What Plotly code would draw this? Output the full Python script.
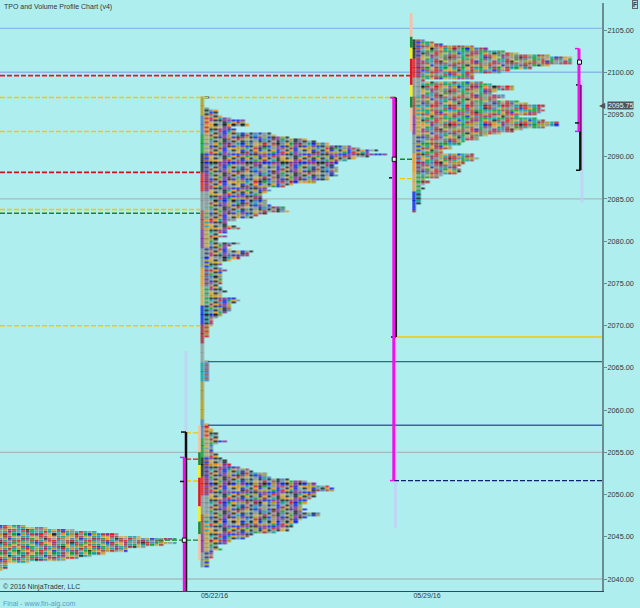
import plotly.graph_objects as go

# ---- data ----
TICK_PRICES = [2040, 2045, 2050, 2055, 2060, 2065, 2070, 2075, 2080, 2085, 2090, 2095, 2100, 2105]
DATE_TICKS = ["05/22/16", "05/29/16"]
LAST_PRICE = 2095.75
ROW = 0.25

P1_TOP = 2046.25
P1_COUNTS = [6, 11, 17, 22, 27, 32, 40, 37, 40, 37, 33, 29, 29, 24, 21, 18, 15, 7, 2, 2, 2, 1]

P2_TOP = 2097.0
P2_COUNTS = [
    2, 1, 1, 1, 1, 2, 4, 4, 4, 5, 7, 10, 10, 11, 7, 8, 8,
    16, 17, 20, 24, 26, 29, 34, 36, 40, 38, 42, 38, 35, 33, 31, 30, 31, 31, 31, 30, 31, 29, 29, 26, 21, 19,
    15, 16, 15, 14, 14, 14, 15, 15, 16, 19, 19, 20,
    15, 13, 12, 8, 6, 6, 8, 9, 6, 6, 4, 6, 4, 4, 9, 7, 6, 7, 12, 11,
    11, 9, 7, 5, 5, 4, 5, 6, 5, 5, 5, 5, 5, 5, 4, 5, 5, 6, 5, 5,
    8, 9, 8, 7, 7, 7, 7, 6, 5, 4, 3, 3, 3, 3, 2, 2, 2, 2, 2, 1, 1, 1, 1, 1,
    1, 1, 1, 1, 1, 1, 2, 2, 2, 2, 2, 2, 2, 2, 2, 2,
    1, 1, 1, 1, 1, 1, 1, 1, 1, 1, 1, 1, 1, 1, 1, 1, 1, 1, 1, 1,
    2, 2, 3, 3, 4, 4, 4, 4, 6, 4, 3, 3, 3, 3,
    4, 4, 5, 6, 6, 7, 9, 11, 12, 15, 15, 16, 20, 24, 26, 29, 30, 30, 26, 26, 26, 25, 24, 24, 23, 23, 24, 23,
    27, 27, 24, 23, 22, 21, 21, 20, 20, 17, 12, 11, 10, 7, 6, 4, 4, 5, 3, 3, 3, 3, 2, 2, 2, 2,
]

P3_TOP = 2103.75
P3_COUNTS = [
    3, 5, 7, 14, 17, 21, 24, 31, 36, 36, 36, 36, 31, 27, 22, 20, 14, 14, 14, 3, 16, 18, 23, 23,
    19, 18, 21, 21, 19, 24, 26, 30, 29, 30, 29, 28, 24, 28, 30, 33, 33, 30, 25, 23, 20, 17, 15, 15, 12, 11,
    9, 9, 7, 7, 14, 14, 15, 14, 12, 11, 10, 11, 11, 10, 7, 6, 3, 4, 3, 2, 3, 2, 2, 2, 2, 2, 2, 2, 1, 1, 1, 1,
]

PALETTE = ["#E8141C", "#1420E0", "#149A2C", "#F0901C", "#B8960C", "#8A2A96", "#149C9C",
           "#8C8C8C", "#A81C2C", "#202020", "#D8A448", "#4C78B8", "#808C8C", "#A89030", "#B04040", "#909898"]

# ---- layout constants (x axis runs in pixels of the plot width) ----
BLOCK = 4.45
P1_X, P2_X, P3_X = -1.0, 200.5, 412.3
XR = 602
PW = 602.0


def colour_matrix(counts, salt):
    wide = max(counts)
    n = len(PALETTE)
    z = []
    for r, cnt in enumerate(counts):
        line = []
        for c in range(wide):
            if c >= cnt:
                line.append(None)
            elif c < 2 and salt != 1:
                line.append((c * 5 + (r // 9) * 7 + salt + (r % 2) * 3 * c) % n)
            else:
                line.append(((r * 31 + c * 17) ^ (r * c * 13 + salt)) % n)
        z.append(line)
    return z


def profile(x0, top, counts, salt):
    n = len(PALETTE)
    scale = []
    for i, col in enumerate(PALETTE):
        scale += [[i / n, col], [(i + 1) / n, col]]
    return go.Heatmap(z=colour_matrix(counts, salt), x0=x0 + BLOCK / 2, dx=BLOCK, y0=top, dy=-ROW,
                      zmin=0, zmax=n, colorscale=scale, showscale=False, hoverinfo="skip",
                      xgap=0.5, ygap=0.4)


fig = go.Figure()
fig.add_trace(profile(P1_X, P1_TOP, P1_COUNTS, 1))
fig.add_trace(profile(P2_X, P2_TOP, P2_COUNTS, 4))
fig.add_trace(profile(P3_X, P3_TOP, P3_COUNTS, 9))

shapes = []
DASH = "5px,2px"
YEL = "#F5C800"


def hline(p, x0, x1, color, width=1, dash="solid", layer="above"):
    shapes.append(dict(type="line", xref="x", yref="y", x0=x0, x1=x1, y0=p, y1=p, layer=layer,
                       line=dict(color=color, width=width, dash=dash)))


def vline(x, p0, p1, color, width=1, layer="above"):
    shapes.append(dict(type="line", xref="x", yref="y", x0=x, x1=x, y0=p0, y1=p1, layer=layer,
                       line=dict(color=color, width=width)))


# background levels
for p in (2105.2, 2100):
    hline(p, 0, XR, "#8AB8E8", 1.3, layer="below")
for p in (2085, 2055, 2040):
    hline(p, 0, XR, "#A4BCBC", 1.3, layer="below")

# faint volume ghosts
for x, a, b in [(186, 2067, 2039), (395.5, 2097, 2046), (411, 2106.5, 2104), (582, 2099, 2084.5)]:
    vline(x, a, b, "rgba(195,205,245,0.75)", 3, layer="below")

# long levels
hline(2099.6, 0, 410, "#F0101C", 1.6, DASH)
hline(2097.0, 0, 395, YEL, 1.5, DASH)
hline(2093.0, 0, 200, YEL, 1.5, DASH)
hline(2088.15, 0, 200, "#D0101C", 1.6, DASH)
hline(2083.75, 0, 200, YEL, 1.5, DASH)
hline(2083.3, 0, 200, "#108A28", 1.6, DASH)
hline(2070.0, 0, 200, YEL, 1.5, DASH)
hline(2065.75, 208, XR, "#2A6E78", 1.2)
hline(2058.2, 208, XR, "#3C60B4", 1.4)
hline(2068.65, 394, XR, YEL, 1.4)
hline(2051.65, 394, XR, "#101E78", 1.4, DASH)

# short session marks
hline(2089.7, 400, 412, "#108A28", 1.4, DASH)
hline(2087.4, 400, 412, YEL, 1.4, DASH)
hline(2057.3, 186, 200, YEL, 1.4, DASH)
hline(2054.2, 186, 200, "#F0101C", 1.4, DASH)
hline(2051.6, 186, 200, YEL, 1.4, DASH)
hline(2044.6, 158, 200, "#108A28", 1.4, DASH)

# session colour strips
for x, segs in [
    (199.4, [(2058.2, 2055.0, "#F8C0A0"), (2055.0, 2053.5, "#1C8A30"), (2053.5, 2052.0, "#F8F010"),
             (2052.0, 2048.6, "#E8141C"), (2048.6, 2046.8, "#F8F010"), (2046.8, 2045.3, "#1C8A30"),
             (2045.3, 2042.2, "#F8C0A0")]),
    (411.2, [(2107.0, 2104.2, "#F8C0A0"), (2104.2, 2102.9, "#1C8A30"), (2102.9, 2101.6, "#F8F010"),
             (2101.6, 2098.5, "#E8141C"), (2098.5, 2097.1, "#F8F010"), (2097.1, 2095.8, "#1C8A30"),
             (2095.8, 2093.0, "#F8C0A0")]),
]:
    for a, b, col in segs:
        vline(x, a, b, col, 2.5)

# brackets
BLACK, MAG = "#101010", "#F010E8"
for x, hi, lo, cap, col, w in [
    (186.0, 2057.4, 2038.58, 181, BLACK, 2.5),
    (184.3, 2054.4, 2038.58, 180, MAG, 3),
    (395.8, 2097.0, 2068.65, 391, BLACK, 2.5),
    (393.8, 2097.0, 2051.65, 390, MAG, 3),
    (580.3, 2098.5, 2088.4, 576, BLACK, 2.5),
    (579.0, 2102.8, 2093.0, 575, MAG, 3),
]:
    vline(x, hi, lo, col, w)
    hline(hi, cap, x, col, 1.5)
    if lo > 2039:
        hline(lo, cap, x, col, 1.5)

hline(2051.55, 180, 184, BLACK, 1.5)
hline(2094.0, 575, 579, BLACK, 1.5)
hline(2087.5, 389, 392, BLACK, 1.5)
for x, p in [(184.3, 2044.6), (394.2, 2089.7), (579.5, 2101.2)]:
    shapes.append(dict(type="rect", xref="x", yref="y", x0=x - 2, x1=x + 2, y0=p - 0.25, y1=p + 0.25,
                       fillcolor="#E8F0F0", line=dict(color=BLACK, width=1)))

annotations = [
    dict(text="TPO and Volume Profile Chart (v4)", xref="paper", yref="paper", x=0.0025, y=0.9925,
         xanchor="left", yanchor="middle", showarrow=False, font=dict(size=7, color="#303840")),
    dict(text="© 2016 NinjaTrader, LLC", xref="paper", yref="paper", x=0.002, y=0.0068,
         xanchor="left", yanchor="middle", showarrow=False, font=dict(size=7, color="#303840")),
    dict(text="Final - www.fin-alg.com", xref="paper", yref="paper", x=0.0015, y=-0.0225,
         xanchor="left", yanchor="middle", showarrow=False, font=dict(size=7, color="#5C9CC4")),
    dict(text=f"{LAST_PRICE:.2f}", xref="paper", yref="y", x=606.5 / PW, y=LAST_PRICE, xanchor="left",
         yanchor="middle", yshift=3, showarrow=False, bgcolor="#505458", borderpad=0,
         font=dict(size=7, color="#F4F4F4")),
    dict(text="◀", xref="paper", yref="y", x=607.5 / PW, y=LAST_PRICE, xanchor="right", yanchor="middle",
         yshift=3, showarrow=False, font=dict(size=8, color="#505458")),
    dict(text="<b>F</b>", xref="paper", yref="paper", x=635 / PW, y=0.9966, xanchor="center", yanchor="middle",
         showarrow=False, bgcolor="#C8D4D4", bordercolor="#606468", borderwidth=1, borderpad=0,
         font=dict(size=6.5, color="#303840")),
]

fig.update_layout(
    width=640, height=608, margin=dict(l=0, r=38, t=3, b=17),
    paper_bgcolor="#AFEEEE", plot_bgcolor="#AFEEEE",
    font=dict(family="Liberation Sans", size=7, color="#303840"),
    shapes=shapes, annotations=annotations, showlegend=False,
    xaxis=dict(range=[0, XR], tickmode="array", tickvals=[214.5, 427], ticktext=DATE_TICKS,
               showgrid=False, zeroline=False, showline=True, linecolor="#3A4460", linewidth=1,
               ticks="", ticklen=0, ticklabelstandoff=-2, tickfont=dict(size=7, color="#303840")),
    yaxis=dict(range=[2038.58, 2108.2], side="right", tickmode="array", tickvals=TICK_PRICES,
               tickformat=".2f", showgrid=False, zeroline=False, showline=True, linecolor="#6E8C90",
               linewidth=2, ticks="outside", ticklen=3, tickcolor="#6E8C90", ticklabelstandoff=-1,
               tickfont=dict(size=7.3, color="#303840")),
)

fig.write_html("out.html", post_script="document.body.style.margin='0';",
               config={"displayModeBar": False})
